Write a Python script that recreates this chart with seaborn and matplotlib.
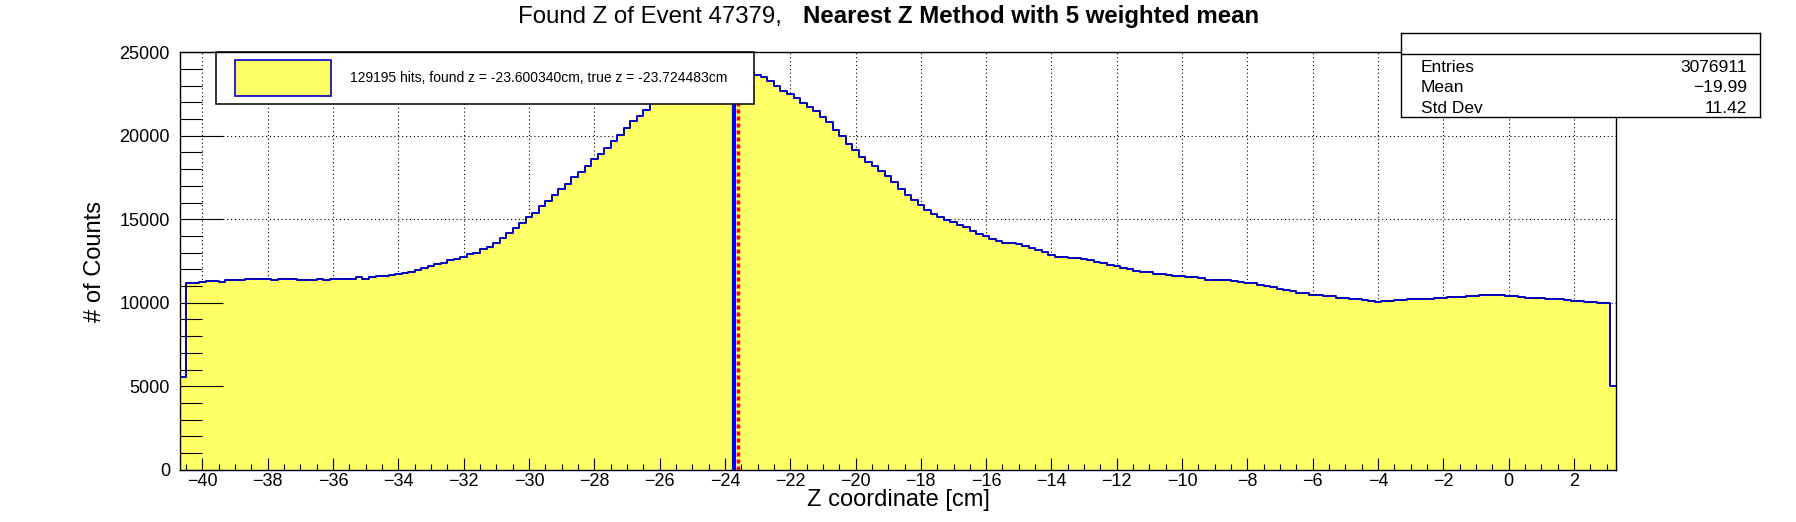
'''
Found Z histogram of one event, drawn ROOT-style with seaborn.
'''
import numpy as np
import pandas as pd
import seaborn as sns
import matplotlib.pyplot as plt
from matplotlib.patches import Patch
from matplotlib.legend_handler import HandlerPatch
from matplotlib.ticker import MultipleLocator

# histogram range and counts per 0.2 cm bin
z_min, z_max = -40.7, 3.3
counts = [
    5550, 11160, 11200, 11220, 11290, 11300, 11260, 11350, 11350, 11350,
    11400, 11400, 11400, 11400, 11350, 11400, 11400, 11400, 11350, 11350,
    11350, 11400, 11350, 11400, 11400, 11450, 11450, 11530, 11450, 11530,
    11590, 11590, 11670, 11730, 11800, 11860, 11960, 12080, 12180, 12300,
    12370, 12550, 12610, 12711, 12892, 12992, 13193, 13353, 13594, 13896,
    14197, 14458, 14799, 15120, 15402, 15763, 16084, 16446, 16807, 17128,
    17530, 17831, 18173, 18614, 18896, 19277, 19659, 20020, 20482, 20863,
    21205, 21566, 21950, 22300, 22650, 22950, 23200, 23450, 23650, 23800,
    23950, 24050, 24100, 24100, 24050, 23950, 23850, 23750, 23634, 23494,
    23253, 22952, 22650, 22490, 22229, 21948, 21747, 21486, 21144, 20803,
    20321, 19960, 19518, 19137, 18735, 18434, 18193, 17912, 17590, 17229,
    16827, 16446, 16145, 15843, 15542, 15301, 15141, 14960, 14839, 14659,
    14518, 14317, 14116, 13996, 13815, 13695, 13574, 13574, 13514, 13394,
    13273, 13153, 13026, 12846, 12727, 12727, 12667, 12667, 12607, 12547,
    12468, 12368, 12248, 12188, 12089, 12009, 11909, 11830, 11830, 11710,
    11710, 11650, 11590, 11590, 11530, 11530, 11471, 11391, 11351, 11351,
    11351, 11291, 11231, 11171, 11171, 11052, 10992, 10932, 10812, 10753,
    10693, 10613, 10573, 10494, 10454, 10394, 10394, 10274, 10274, 10214,
    10214, 10154, 10094, 10035, 10094, 10094, 10154, 10154, 10214, 10214,
    10214, 10214, 10274, 10274, 10334, 10334, 10334, 10394, 10394, 10454,
    10454, 10454, 10454, 10394, 10394, 10334, 10274, 10274, 10274, 10214,
    10214, 10214, 10154, 10094, 10094, 10035, 10035, 9975, 9975, 5000,
]
found_z = -23.600340
true_z = -23.724483
n_hits = 129195
event_id = 47379
stats_labels = ["Entries", "Mean", "Std Dev"]
stats_values = ["3076911", "\u221219.99", "11.42"]

fill_color = "#ffff66"
edge_color = "#0000c0"

edges = np.linspace(z_min, z_max, len(counts) + 1)
df = pd.DataFrame({"z": (edges[:-1] + edges[1:]) / 2, "counts": counts})

plt.rcParams["font.family"] = ["Liberation Sans", "DejaVu Sans"]

fig = plt.figure(figsize=(17.96, 5.22), dpi=100)
rect = [0.1, 0.1, 0.8, 0.8]

# main axes: grid under the filled histogram
ax = fig.add_axes(rect, zorder=0)
ax.set_axisbelow(True)
sns.histplot(data=df, x="z", weights="counts", bins=list(edges), element="step",
             fill=True, color=fill_color, alpha=1, linewidth=0, ax=ax)
sns.histplot(data=df, x="z", weights="counts", bins=list(edges), element="step",
             fill=False, color=edge_color, linewidth=1.4, ax=ax)
ax.axvline(true_z, color="#0000ff", linewidth=3.0, zorder=3)
ax.axvline(found_z, color="#ff0000", linewidth=2.4, linestyle=(0, (1.2, 0.9)), zorder=3)

ax.set_xlim(z_min, z_max)
ax.set_ylim(0, 25000)
ax.xaxis.set_major_locator(MultipleLocator(2))
ax.xaxis.set_minor_locator(MultipleLocator(0.5))
ax.yaxis.set_major_locator(MultipleLocator(5000))
ax.yaxis.set_minor_locator(MultipleLocator(1000))
ax.grid(True, which="major", color="black", linestyle=(0, (1, 2.5)), linewidth=0.8)
ax.tick_params(which="both", length=0, labelbottom=False, labelleft=False)
ax.set_xlabel("")
ax.set_ylabel("")
for s in ax.spines.values():
    s.set_visible(False)

legend_label = f"{n_hits} hits, found z = {found_z:.6f}cm, true z = {true_z:.6f}cm"
handle = Patch(facecolor=fill_color, edgecolor=edge_color, linewidth=1.2)
ax.legend([handle], [legend_label], loc="upper left", mode="expand",
          bbox_to_anchor=(216 / 1796, 1 - 104 / 522, 538 / 1796, 52 / 522),
          bbox_transform=fig.transFigure, borderaxespad=0, fontsize=10,
          borderpad=0.58, handlelength=7.7, handleheight=3.61, handletextpad=1.37,
          handler_map={Patch: HandlerPatch(xpad=0.79)},
          fancybox=False, framealpha=1, edgecolor="black", shadow=False)
ax.get_legend().get_frame().set_linewidth(1.1)

# overlay axes: frame, ticks and labels drawn above the fill
ax2 = fig.add_axes(rect, sharex=ax, sharey=ax, zorder=1)
ax2.patch.set_visible(False)
ax2.grid(False)
for s in ax2.spines.values():
    s.set_color("black")
    s.set_linewidth(1.0)
ax2.tick_params(axis="x", which="major", direction="in", length=9, width=0.8,
                labelsize=13, pad=2.5, top=False)
ax2.tick_params(axis="x", which="minor", direction="in", length=4.5, width=0.8, top=False)
ax2.tick_params(axis="y", which="major", direction="in", length=31, width=0.8,
                labelsize=13, pad=7, right=False)
ax2.tick_params(axis="y", which="minor", direction="in", length=16, width=0.8, right=False)
ax2.set_xlabel("Z coordinate [cm]", fontsize=17)
ax2.set_ylabel("# of Counts", fontsize=17)
ax2.xaxis.set_label_coords(0.5, -0.045)
ax2.yaxis.set_label_coords(-0.0515, 0.5)

# title: plain part and bold part
fig.text(782 / 1796, 1 - 17 / 522, f"Found Z of Event {event_id},",
         ha="right", va="center", fontsize=17.3)
fig.text(803 / 1796, 1 - 17 / 522, "Nearest Z Method with 5 weighted mean",
         ha="left", va="center", fontsize=17.3, fontweight="bold")

# stats box
ax_s = fig.add_axes([1401 / 1796, 1 - 117 / 522, 359 / 1796, 84 / 522], zorder=2)
ax_s.set_xlim(0, 1)
ax_s.set_ylim(0, 1)
ax_s.set_xticks([])
ax_s.set_yticks([])
for s in ax_s.spines.values():
    s.set_linewidth(1.0)
ax_s.axhline(0.75, color="black", linewidth=1.0)
for i, (lab, val) in enumerate(zip(stats_labels, stats_values)):
    y = [0.595, 0.357, 0.107][i]
    ax_s.text(0.056, y, lab, ha="left", va="center", fontsize=12.5)
    ax_s.text(0.964, y, val, ha="right", va="center", fontsize=12.5)

fig.savefig("out.png", dpi=100)
